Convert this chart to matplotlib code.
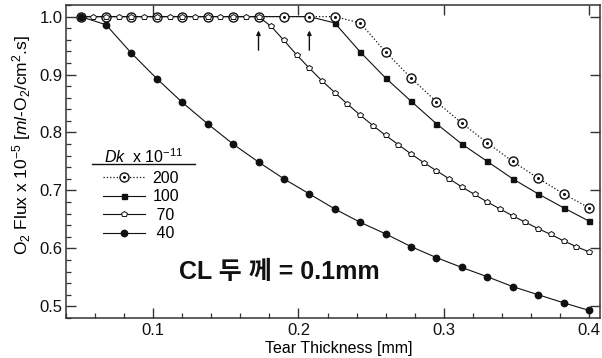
import numpy as np
import matplotlib
matplotlib.use("Agg")
import matplotlib.pyplot as plt
from matplotlib.ticker import MultipleLocator
from matplotlib.legend_handler import HandlerTuple

plt.rcParams['font.family'] = ['Liberation Sans', 'Noto Sans CJK KR', 'DejaVu Sans']
plt.rcParams['mathtext.fontset'] = 'custom'
plt.rcParams['mathtext.rm'] = 'Liberation Sans'
plt.rcParams['mathtext.it'] = 'Liberation Sans:italic'

# tear thickness [mm]
x21 = np.linspace(0.05, 0.4, 21)
x41 = np.linspace(0.05, 0.4, 41)

# O2 flux x 1e-5 for each Dk
flux_200 = [1.0, 1.0, 1.0, 1.0, 1.0, 1.0, 1.0, 1.0, 1.0, 1.0, 1.0,
            0.989, 0.939, 0.894, 0.853, 0.816, 0.782, 0.750, 0.721, 0.694, 0.670]
flux_100 = [1.0, 1.0, 1.0, 1.0, 1.0, 1.0, 1.0, 1.0, 1.0, 1.0,
            0.989, 0.939, 0.894, 0.854, 0.815, 0.780, 0.750, 0.720, 0.694, 0.670, 0.647]
flux_70 = [1.0] * 15 + [0.983, 0.959, 0.934, 0.911, 0.889, 0.869, 0.849, 0.830,
                        0.812, 0.795, 0.779, 0.763, 0.748, 0.734, 0.720, 0.706,
                        0.693, 0.680, 0.668, 0.656, 0.645, 0.634, 0.624, 0.613,
                        0.603, 0.594]
flux_40 = [1.0, 0.986, 0.937, 0.893, 0.852, 0.815, 0.780, 0.749, 0.720, 0.694,
           0.668, 0.645, 0.625, 0.603, 0.584, 0.567, 0.551, 0.534, 0.520, 0.506, 0.493]

dk_labels = ['200', '100', ' 70', ' 40']
arrow_x = [0.1725, 0.2075]

fig = plt.figure(figsize=(6.02, 3.58), dpi=100)
ax = fig.add_axes([0.1096, 0.112, 0.887, 0.874])

k = '#111111'
l100, = ax.plot(x21, flux_100, '-', color=k, lw=0.8, marker='s', ms=3.6,
                mfc=k, mec=k, zorder=2)
l200, = ax.plot(x21, flux_200, ':', color=k, lw=0.9, marker='o', ms=6.5,
                mfc='white', mec=k, mew=1.0, zorder=3)
d200, = ax.plot(x21, flux_200, ls='none', marker='o', ms=1.2, color=k, zorder=3.1)
l70, = ax.plot(x41, flux_70, '-', color=k, lw=0.8, marker='p', ms=4.3,
               mfc='white', mec=k, mew=0.7, zorder=4)
l40, = ax.plot(x21, flux_40, '-', color=k, lw=0.8, marker='o', ms=4.6,
               mfc=k, mec=k, zorder=5)

for xa in arrow_x:
    ax.annotate('', xy=(xa, 0.976), xytext=(xa, 0.942),
                arrowprops=dict(arrowstyle='-|>', color=k, lw=1.0,
                                mutation_scale=6, shrinkA=0, shrinkB=0))

ax.set_xlim(0.04, 0.4075)
ax.set_ylim(0.48, 1.02)
ax.xaxis.set_major_locator(MultipleLocator(0.1))
ax.xaxis.set_minor_locator(MultipleLocator(0.02))
ax.yaxis.set_major_locator(MultipleLocator(0.1))
ax.yaxis.set_minor_locator(MultipleLocator(0.02))
ax.xaxis.set_major_formatter(plt.FuncFormatter(lambda v, p: f'{v:.1f}'))
ax.yaxis.set_major_formatter(plt.FuncFormatter(lambda v, p: f'{v:.1f}'))
ax.tick_params(which='major', direction='in', length=7, width=1.0,
               top=True, right=True, labelsize=12, colors='#333333',
               labelcolor='#111111')
ax.tick_params(axis='x', which='major', pad=3.5)
ax.tick_params(axis='y', which='major', pad=2.5)
ax.tick_params(which='minor', direction='in', length=3.5, width=0.9,
               top=False, right=False, colors='#333333')
for s in ax.spines.values():
    s.set_linewidth(1.1)
    s.set_color('#333333')

ax.set_xlabel('Tear Thickness [mm]', fontsize=11.5, labelpad=0)
ax.xaxis.set_label_coords(0.51, -0.075)
ax.set_ylabel('O$_2$ Flux x 10$^{-5}$ [$ml$-O$_2$/cm$^2$.s]', fontsize=12.5)
ax.yaxis.set_label_coords(-0.062, 0.553)

ax.text(0.187, 0.56, 'CL 두 께 = 0.1mm', fontsize=18, fontweight='bold',
        ha='center', va='center', color=k)

# legend header with underline
ax.text(0.071, 0.514, '$Dk$  x 10$^{-11}$', transform=ax.transAxes, fontsize=11.5,
        va='center', ha='left')
ax.plot([0.049, 0.242], [0.491, 0.491], transform=ax.transAxes, color=k, lw=1.0)

leg = ax.legend([(l200, d200), l100, l70, l40], dk_labels,
                handler_map={tuple: HandlerTuple(ndivide=1)},
                loc='upper left', bbox_to_anchor=(0.0693, 0.47), frameon=False,
                fontsize=11.5, handlelength=2.65, handletextpad=0.45,
                labelspacing=0.22, borderaxespad=0, borderpad=0)

fig.savefig('out.png', dpi=100)
